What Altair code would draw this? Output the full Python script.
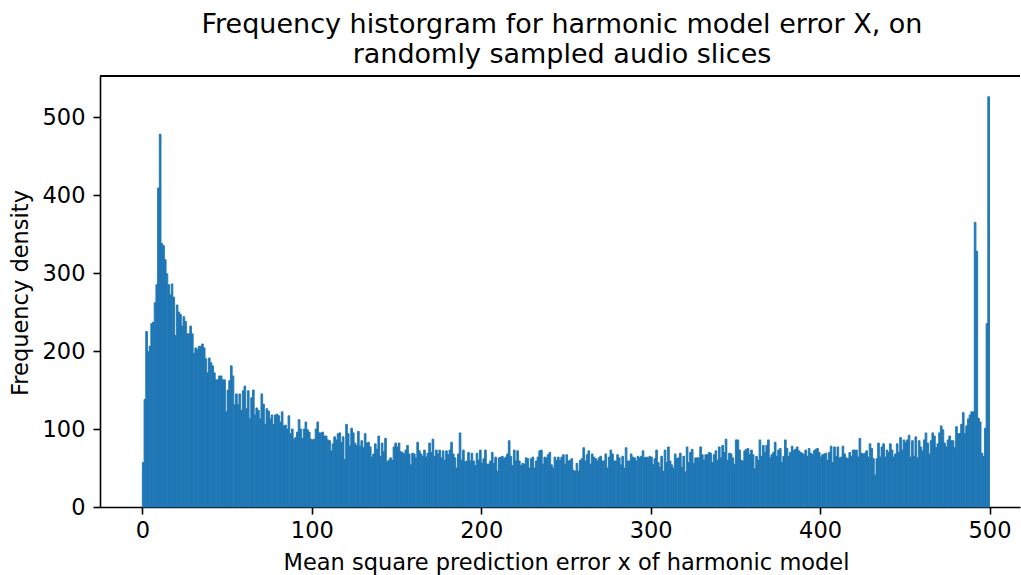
import altair as alt
import pandas as pd

# Frequency density per unit-width bin, bins [0,1), [1,2), ... [499,500)
d000 = [57, 138, 225, 199, 206, 235, 237, 262, 285, 409,
        478, 338, 335, 317, 299, 285, 272, 286, 269, 220,
        259, 250, 247, 232, 244, 238, 222, 222, 232, 222,
        197, 204, 202, 206, 206, 209, 204, 190, 172, 191,
        185, 181, 172, 163, 163, 168, 168, 163, 163, 122]
d050 = [150, 162, 181, 168, 131, 145, 131, 145, 124, 149,
        155, 126, 149, 113, 140, 150, 118, 127, 124, 113,
        145, 132, 106, 126, 123, 113, 118, 106, 118, 119,
        117, 109, 122, 104, 105, 100, 117, 94, 100, 87,
        89, 96, 112, 100, 88, 100, 109, 99, 96, 87]
d100 = [86, 87, 100, 109, 95, 95, 96, 91, 91, 86,
        85, 72, 81, 90, 86, 94, 95, 83, 90, 61,
        106, 94, 78, 101, 95, 82, 79, 97, 78, 85,
        76, 94, 82, 83, 77, 64, 68, 81, 74, 91,
        65, 82, 71, 88, 58, 60, 63, 60, 77, 82]
d150 = [77, 82, 71, 70, 68, 73, 79, 68, 54, 69,
        68, 63, 83, 72, 68, 65, 73, 64, 69, 82,
        70, 87, 65, 73, 68, 73, 63, 72, 60, 72,
        67, 73, 83, 68, 63, 50, 68, 95, 60, 73,
        58, 59, 70, 59, 69, 59, 53, 69, 60, 73]
d200 = [56, 62, 73, 55, 55, 59, 70, 56, 64, 46,
        63, 64, 65, 62, 64, 68, 85, 65, 53, 73,
        59, 72, 59, 53, 56, 55, 63, 62, 50, 62,
        64, 50, 59, 64, 72, 73, 55, 64, 63, 67,
        70, 54, 50, 64, 60, 64, 60, 64, 67, 55]
d250 = [67, 59, 60, 62, 47, 46, 56, 46, 60, 62,
        76, 59, 67, 72, 55, 68, 64, 62, 59, 63,
        65, 59, 59, 68, 50, 64, 73, 68, 59, 59,
        67, 63, 54, 65, 50, 76, 59, 59, 68, 64,
        63, 59, 65, 63, 65, 72, 63, 64, 63, 65]
d300 = [64, 54, 62, 73, 57, 51, 65, 46, 73, 57,
        77, 59, 54, 50, 68, 62, 63, 69, 51, 65,
        45, 77, 57, 70, 74, 56, 63, 63, 63, 77,
        67, 60, 67, 67, 70, 69, 57, 67, 72, 60,
        77, 63, 79, 70, 87, 60, 69, 68, 63, 55]
d350 = [86, 86, 73, 60, 59, 72, 74, 75, 67, 73,
        67, 49, 65, 60, 86, 65, 79, 70, 79, 86,
        63, 67, 70, 83, 65, 73, 75, 57, 65, 86,
        75, 65, 70, 78, 72, 74, 77, 72, 70, 69,
        67, 73, 65, 75, 69, 67, 72, 74, 75, 70]
d400 = [64, 67, 68, 69, 60, 70, 78, 57, 77, 65,
        77, 63, 64, 78, 68, 63, 62, 70, 65, 73,
        73, 73, 64, 88, 69, 68, 69, 72, 64, 81,
        75, 62, 41, 62, 82, 64, 77, 81, 64, 73,
        70, 81, 73, 64, 68, 81, 70, 89, 73, 86]
d450 = [83, 86, 92, 64, 85, 65, 90, 63, 85, 77,
        72, 86, 95, 82, 68, 85, 95, 91, 76, 81,
        95, 104, 99, 82, 77, 86, 91, 85, 85, 76,
        103, 94, 94, 106, 121, 94, 104, 113, 118, 122,
        122, 365, 328, 114, 109, 69, 65, 101, 235, 526]

density = d000 + d050 + d100 + d150 + d200 + d250 + d300 + d350 + d400 + d450
bin_start = list(range(0, 500))
bin_width = 1

x_ticks = [0, 100, 200, 300, 400, 500]
y_ticks = [0, 100, 200, 300, 400, 500]

title_lines = ["Frequency historgram for harmonic model error X, on",
               "randomly sampled audio slices"]
x_title = "Mean square prediction error x of harmonic model"
y_title = "Frequency density"

df = pd.DataFrame({
    "x0": bin_start,
    "x1": [b + bin_width for b in bin_start],
    "density": density,
    "base": [0] * len(bin_start),
})

W, H = 920, 431
FONT = "DejaVu Sans"
BLUE = "#1f77b4"
FS = 22.5

bars = alt.Chart(df).mark_rect(color=BLUE, stroke=BLUE, strokeWidth=0.9).encode(
    x=alt.X("x0:Q",
            scale=alt.Scale(domain=[-25, 518], nice=False, zero=False),
            axis=alt.Axis(values=x_ticks, title=x_title, format="d",
                          labelPadding=5,
                          titleX=466, titleY=55, titleBaseline="middle",
                          titleAlign="center")),
    x2="x1:Q",
    y=alt.Y("density:Q",
            scale=alt.Scale(domain=[0, 552.6], nice=False),
            axis=alt.Axis(values=y_ticks, title=y_title, format="d",
                          labelPadding=8,
                          titleX=-80, titleY=H / 2 + 1, titleAngle=-90,
                          titleBaseline="middle", titleAlign="center")),
    y2="base:Q",
)

top_rule = alt.Chart(df).mark_rule(color="black", strokeWidth=1.6).encode(
    x=alt.value(0), x2=alt.value(W), y=alt.value(0)
)

chart = alt.layer(bars, top_rule).properties(
    width=W,
    height=H,
    title=alt.TitleParams(text=title_lines, anchor="middle", font=FONT,
                          fontSize=27, fontWeight="normal", color="black",
                          lineHeight=30, offset=6, dx=2),
    padding={"left": 100, "top": 76, "right": 1, "bottom": 68},
    autosize=alt.AutoSizeParams(type="none"),
    background="white",
).configure_view(stroke=None).configure_axis(
    grid=False,
    labelFont=FONT, labelFontSize=FS, labelColor="black",
    titleFont=FONT, titleFontSize=FS, titleFontWeight="normal", titleColor="black",
    domainColor="black", domainWidth=1.6,
    tickColor="black", tickWidth=1.6, tickSize=7,
)

chart.save("out.html", embed_options={"renderer": "svg", "actions": False})
